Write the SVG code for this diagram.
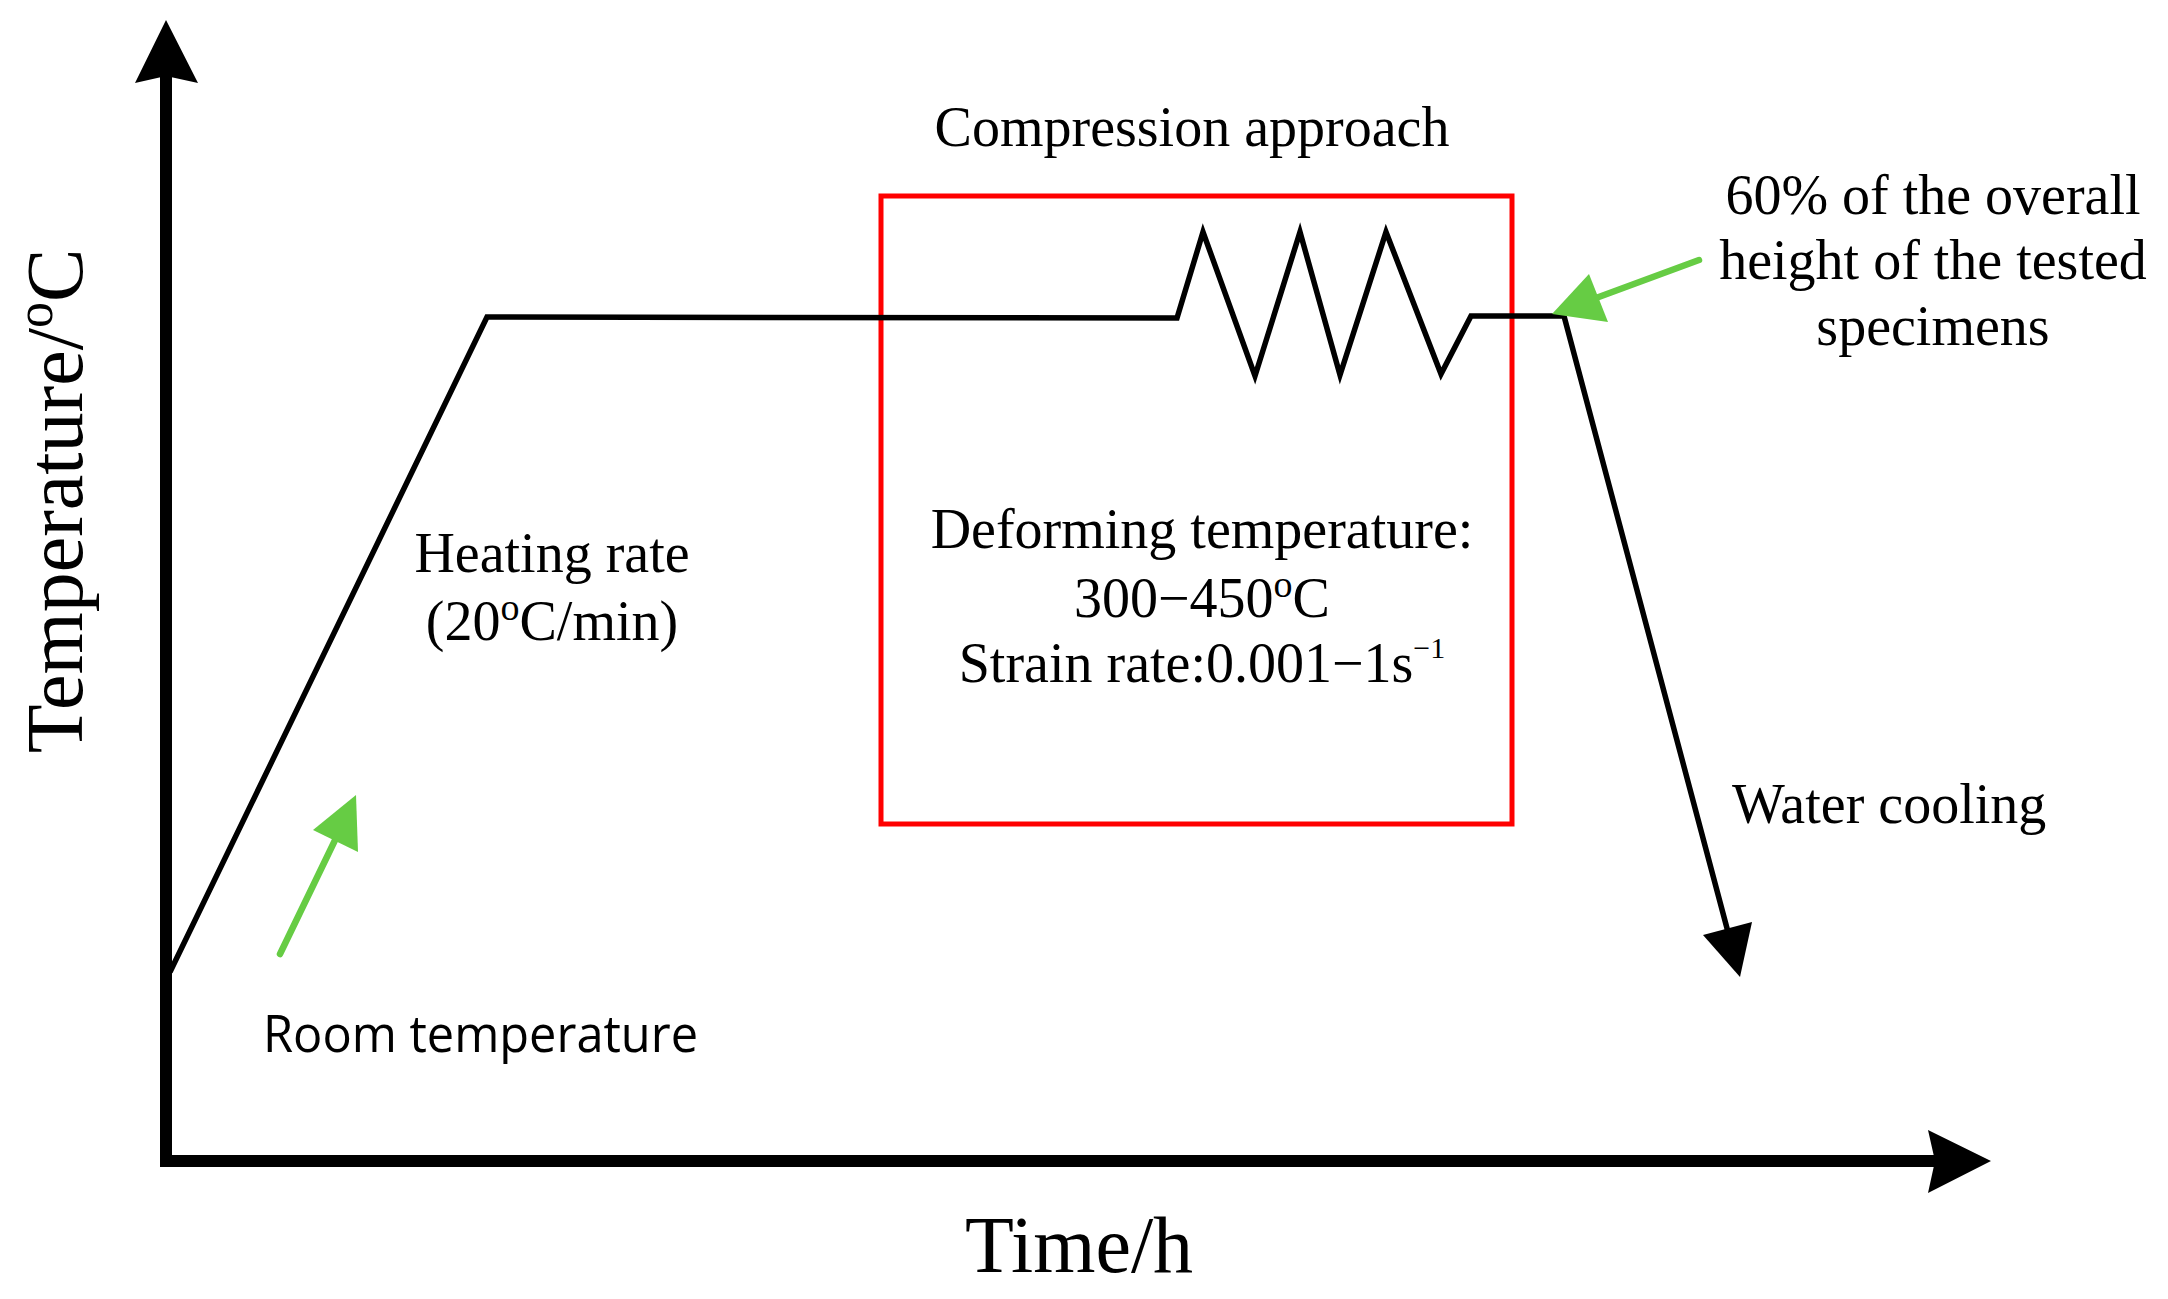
<svg xmlns="http://www.w3.org/2000/svg" width="2168" height="1299" viewBox="0 0 2168 1299">
<style>
.serif{font-family:"Liberation Serif","Times New Roman",serif;font-size:56px;fill:#000;text-anchor:middle}
.axislbl{font-family:"Liberation Serif","Times New Roman",serif;font-size:80px;fill:#000;text-anchor:middle}
.sans{font-family:"Open Sans","Noto Sans","Liberation Sans",sans-serif;font-size:52px;fill:#000}
.curve{fill:none;stroke:#000;stroke-width:5.5;stroke-linejoin:miter}
.green{stroke:#66cc44;stroke-width:6.5;stroke-linecap:round;fill:none}
.greenhead{fill:#66cc44}
</style>
<rect width="2168" height="1299" fill="#fff"/>
<g id="axes">
  <rect x="160" y="76" width="12" height="1091" fill="#000"/>
  <polygon points="166,20 198,83 166,76 135,83" fill="#000"/>
  <rect x="160" y="1155" width="1776" height="12" fill="#000"/>
  <polygon points="1991,1161 1928,1193 1935,1161 1928,1130" fill="#000"/>
</g>
<g id="axis-labels">
  <text class="axislbl" x="1079" y="1272">Time/h</text>
  <text class="axislbl" transform="translate(82,501) rotate(-90)" x="0" y="0">Temperature/<tspan font-size="52" dy="-30">o</tspan><tspan dy="30">C</tspan></text>
</g>
<g id="compression-box">
  <rect x="881" y="196" width="631" height="628" fill="none" stroke="#ff0000" stroke-width="5"/>
  <text class="serif" x="1192" y="146">Compression approach</text>
  <text class="serif" x="1202" y="548">Deforming temperature:</text>
  <text class="serif" x="1202" y="617">300−450<tspan font-size="38" dy="-20">o</tspan><tspan dy="20">C</tspan></text>
  <text class="serif" x="1202" y="682">Strain rate:0.001−1s<tspan font-size="30" dy="-24">−1</tspan></text>
</g>
<g id="connectors">
  <polyline class="curve" points="170,972 487,317 1177,318 1203,232 1255,376 1300,232 1340,375 1386,232 1441,374 1471,316 1564,316 1728,932"/>
  <polygon points="1740,977 1703,935 1752,922" fill="#000"/>
  <line class="green" x1="280" y1="954" x2="338" y2="834"/>
  <polygon class="greenhead" points="356,795 358,852 313,830"/>
  <line class="green" x1="1699" y1="260" x2="1596" y2="298"/>
  <polygon class="greenhead" points="1552,314 1589,274 1608,322"/>
</g>
<g id="label-heating">
  <text class="serif" x="552" y="572">Heating rate</text>
  <text class="serif" x="552" y="640">(20<tspan font-size="38" dy="-20">o</tspan><tspan dy="20">C/min)</tspan></text>
</g>
<g id="label-room">
  <text class="sans" x="263" y="1052" textLength="435" lengthAdjust="spacingAndGlyphs">Room temperature</text>
</g>
<g id="label-height">
  <text class="serif" x="1933" y="214">60% of the overall</text>
  <text class="serif" x="1933" y="279">height of the tested</text>
  <text class="serif" x="1933" y="345">specimens</text>
</g>
<g id="label-water">
  <text class="serif" x="1732" y="823" style="text-anchor:start">Water cooling</text>
</g>
</svg>
